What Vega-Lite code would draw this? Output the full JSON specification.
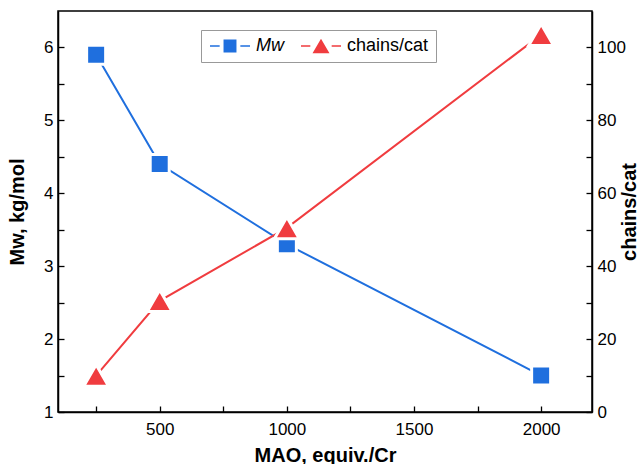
{
  "$schema": "https://vega.github.io/schema/vega-lite/v6.json",
  "width": 534,
  "height": 401,
  "autosize": "none",
  "padding": {"left": 58, "top": 11, "right": 49, "bottom": 52},
  "background": "white",
  "config": {
    "view": {"stroke": "black", "strokeWidth": 1.5},
    "font": "Liberation Sans",
    "axis": {
      "domainColor": "black",
      "domainWidth": 1.5,
      "tickColor": "black",
      "tickWidth": 1.3,
      "tickSize": -6,
      "grid": false,
      "labelFont": "Liberation Sans",
      "labelFontSize": 17,
      "labelColor": "black",
      "titleFont": "Liberation Sans",
      "titleFontSize": 20,
      "titleFontWeight": "bold",
      "titleColor": "black"
    }
  },
  "data": {
    "values": [
      {"mao": 250, "series": "Mw", "value": 5.9},
      {"mao": 500, "series": "Mw", "value": 4.4},
      {"mao": 1000, "series": "Mw", "value": 3.3},
      {"mao": 2000, "series": "Mw", "value": 1.5},
      {"mao": 250, "series": "chains/cat", "value": 10},
      {"mao": 500, "series": "chains/cat", "value": 30.5},
      {"mao": 1000, "series": "chains/cat", "value": 50.5},
      {"mao": 2000, "series": "chains/cat", "value": 103.5}
    ]
  },
  "encoding": {
    "x": {
      "field": "mao",
      "type": "quantitative",
      "scale": {"domain": [100, 2200], "nice": false, "zero": false},
      "axis": {
        "title": "MAO, equiv./Cr",
        "values": [250, 500, 750, 1000, 1250, 1500, 1750, 2000],
        "labelExpr": "datum.value % 500 ? '' : format(datum.value, 'd')",
        "labelPadding": 15,
        "titlePadding": 8
      }
    },
    "color": {
      "field": "series",
      "type": "nominal",
      "scale": {"domain": ["Mw", "chains/cat"], "range": ["#1F6FDE", "#F03C3F"]},
      "legend": {
        "title": null,
        "orient": "none",
        "legendX": 143,
        "legendY": 19,
        "direction": "horizontal",
        "strokeColor": "#999999",
        "padding": 7,
        "symbolSize": 178,
        "symbolOffset": 13,
        "labelOffset": 17,
        "columnPadding": 15,
        "labelFont": "Liberation Sans",
        "labelFontSize": 18,
        "labelColor": "black",
        "labelExpr": "datum.value === 'chains/cat' ? datum.label + '    ' : datum.label",
        "symbolStrokeWidth": 0,
        "encode": {
          "symbols": {
            "update": {
              "shape": {"signal": "datum.value === 'Mw' ? 'M-3,-0.13H-1.55V0.13H-3Z M-0.97,-0.97H0.97V0.97H-0.97Z M1.55,-0.13H3V0.13H1.55Z' : 'M-3,-0.13H-1.6V0.13H-3Z M0,-1.1L1.27,1.1H-1.27Z M1.6,-0.13H3V0.13H1.6Z'"},
              "strokeWidth": {"value": 0}
            }
          },
          "labels": {
            "update": {
              "fontStyle": {"signal": "datum.value === 'Mw' ? 'italic' : 'normal'"}
            }
          }
        }
      }
    }
  },
  "layer": [
    {
      "transform": [{"filter": "datum.series === 'Mw'"}],
      "encoding": {
        "y": {
          "field": "value",
          "type": "quantitative",
          "scale": {"domain": [1, 6.5], "nice": false, "zero": false},
          "axis": {
            "title": "Mw, kg/mol",
            "orient": "left",
            "values": [1, 1.5, 2, 2.5, 3, 3.5, 4, 4.5, 5, 5.5, 6],
            "labelExpr": "datum.value % 1 ? '' : format(datum.value, 'd')",
            "labelPadding": 11,
            "titlePadding": 16
          }
        }
      },
      "layer": [
        {"mark": {"type": "line", "strokeWidth": 2}},
        {"mark": {"type": "point", "shape": "square", "filled": true, "opacity": 1, "size": 361, "stroke": "white", "strokeWidth": 3, "strokeOpacity": 1}}
      ]
    },
    {
      "transform": [{"filter": "datum.series === 'chains/cat'"}],
      "encoding": {
        "y": {
          "field": "value",
          "type": "quantitative",
          "scale": {"domain": [0, 110], "nice": false, "zero": false},
          "axis": {
            "title": "chains/cat",
            "orient": "right",
            "values": [0, 10, 20, 30, 40, 50, 60, 70, 80, 90, 100],
            "labelExpr": "datum.value % 20 ? '' : format(datum.value, 'd')",
            "labelPadding": 11,
            "titleAngle": 270,
            "titleBaseline": "top",
            "titlePadding": -6
          }
        }
      },
      "layer": [
        {"mark": {"type": "line", "strokeWidth": 2}},
        {"mark": {"type": "point", "shape": "triangle-up", "filled": true, "opacity": 1, "size": 620, "stroke": "white", "strokeWidth": 3, "strokeOpacity": 1}}
      ]
    }
  ],
  "resolve": {"scale": {"y": "independent"}}
}
